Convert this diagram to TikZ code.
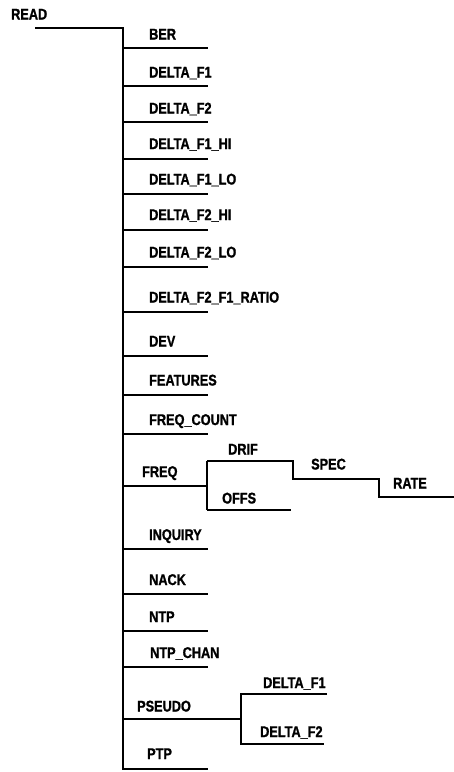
\documentclass[tikz,border=0pt]{standalone}
\usepackage{fontspec}
\setmainfont[FakeStretch=0.82,BoldFeatures={FakeBold=1.2}]{Liberation Sans}
\usepackage{tikz}
\tikzset{
  ln/.style={line width=2pt,black},
  lab/.style={font=\bfseries\fontsize{15.5}{15.5}\selectfont,anchor=base west,inner sep=0pt}
}

\begin{document}
\begin{tikzpicture}[x=1pt,y=-1pt]
\useasboundingbox (0,0) rectangle (454,772);
\node[lab] (read) at (11,19.5) {READ};
\coordinate (read-s) at (35,28);
\coordinate (trunk) at (123,28);
\coordinate (trunk-e) at (123,770);
\draw[ln] (read-s) -- (trunk) -- (trunk-e);
\foreach \iy/\ib/\ix/\ie/\lab [count=\i] in {48/39.5/149/208/BER,86/77.5/149/208/DELTA\_F1,
  122/113.5/149/208/DELTA\_F2,159/149/149/208/DELTA\_F1\_HI,194/184.5/149/208/DELTA\_F1\_LO,
  230/220/149/208/DELTA\_F2\_HI,267/257.5/149/208/DELTA\_F2\_LO,312/302.5/149/208/DELTA\_F2\_F1\_RATIO,
  356/346.5/149/208/DEV,395/385.5/149/208/FEATURES,434/425/149/208/FREQ\_COUNT,486/477/142/207/FREQ,
  549/540/149/208/INQUIRY,594/585/149/208/NACK,631/622/149/208/NTP,667/658/150/208/NTP\_CHAN,
  719/711.5/137/241/PSEUDO,769/759/147/208/PTP}{
  \coordinate (k\i) at (123,\iy);
  \coordinate (k\i-e) at (\ie,\iy);
  \draw[ln] (k\i) -- (k\i-e);
  \node[lab] (n\i) at (\ix,\ib) {\lab};
}
% FREQ branch
\coordinate (drif-s) at (207,461);
\coordinate (drif-e) at (293,461);
\coordinate (offs-s) at (207,510);
\coordinate (offs-e) at (291,510);
\coordinate (spec-s) at (293,479);
\coordinate (spec-e) at (379,479);
\coordinate (rate-s) at (379,497);
\coordinate (rate-e) at (454,497);
\draw[ln] (drif-s) -- (offs-s);
\draw[ln] (drif-s) -- (drif-e) -- (spec-s) -- (spec-e) -- (rate-s) -- (rate-e);
\draw[ln] (offs-s) -- (offs-e);
\node[lab] (drif) at (228,454.5) {DRIF};
\node[lab] (offs) at (222,503.5) {OFFS};
\node[lab] (spec) at (311,469.5) {SPEC};
\node[lab] (rate) at (393,488.5) {RATE};
% PSEUDO branch
\coordinate (pdf1-s) at (241,694);
\coordinate (pdf1-e) at (327,694);
\coordinate (pdf2-s) at (241,744);
\coordinate (pdf2-e) at (324,744);
\draw[ln] (pdf1-e) -- (pdf1-s) -- (pdf2-s) -- (pdf2-e);
\node[lab] (pdf1) at (263,688) {DELTA\_F1};
\node[lab] (pdf2) at (260,737) {DELTA\_F2};
\end{tikzpicture}
\end{document}
